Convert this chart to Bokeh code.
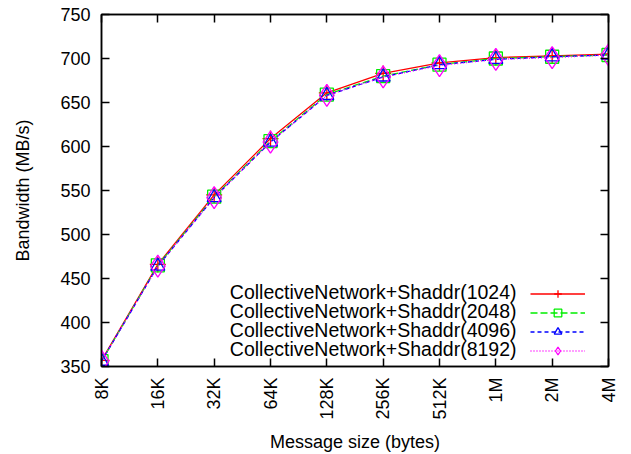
import math
from bokeh.plotting import figure
from bokeh.models import Range1d, FixedTicker, LinearAxis, Legend, LegendItem, Label
from bokeh.embed import file_html
from bokeh.resources import INLINE

sizes = ["8K", "16K", "32K", "64K", "128K", "256K", "512K", "1M", "2M", "4M"]
bw_1024 = [357, 466, 545, 609, 661, 683, 695, 701, 703, 705]
bw_2048 = [356, 465, 543, 606, 659, 680, 693, 700, 702, 704]
bw_4096 = [356, 464, 542, 605, 658, 679, 693, 699, 702, 704]
bw_8192 = [356, 464, 542, 605, 658, 679, 692, 699, 701, 704]
y_ticks = [350, 400, 450, 500, 550, 600, 650, 700, 750]

xs = list(range(len(sizes)))
FONT = "Liberation Sans"
FS = "18px"

p = figure(width=631, height=454, output_backend="svg", toolbar_location=None,
           x_range=Range1d(0, len(sizes) - 1), y_range=Range1d(350, 750),
           min_border_left=101, min_border_right=23, min_border_top=14, min_border_bottom=87)
p.grid.visible = False
p.outline_line_color = "black"
p.outline_line_width = 1.5
p.background_fill_color = "white"
p.border_fill_color = "white"

def style_axis(ax, labels=True):
    ax.axis_line_color = "black"
    ax.axis_line_width = 1.5
    ax.major_tick_in = 8
    ax.major_tick_out = 0
    ax.major_tick_line_width = 1.5
    ax.minor_tick_line_color = None
    ax.major_label_text_font = FONT
    ax.major_label_text_font_size = FS
    ax.major_label_text_color = "black"
    ax.axis_label_text_font = FONT
    ax.axis_label_text_font_size = FS
    ax.axis_label_text_font_style = "normal"
    ax.axis_label_text_color = "black"
    if not labels:
        ax.major_label_standoff = 0

xt = FixedTicker(ticks=xs)
yt = FixedTicker(ticks=y_ticks)

p.xaxis.ticker = xt
p.xaxis.major_label_overrides = {i: s for i, s in enumerate(sizes)}
p.xaxis.major_label_orientation = math.pi / 2
p.xaxis.axis_label = "Message size (bytes)"
p.xaxis.major_label_standoff = 11
p.xaxis.axis_label_standoff = 9
style_axis(p.xaxis[0])

p.yaxis.ticker = yt
p.yaxis.axis_label = "Bandwidth (MB/s)"
p.yaxis.major_label_standoff = 11
p.yaxis.axis_label_standoff = 24
style_axis(p.yaxis[0])

top = LinearAxis(ticker=xt, major_label_overrides={i: "" for i in xs})
style_axis(top, labels=False)
p.add_layout(top, "above")
right = LinearAxis(ticker=yt, major_label_overrides={v: "" for v in y_ticks})
style_axis(right, labels=False)
p.add_layout(right, "right")

series = [
    ("CollectiveNetwork+Shaddr(1024)", bw_1024, "#ff0000", "solid", "cross", 16),
    ("CollectiveNetwork+Shaddr(2048)", bw_2048, "#00ee00", "7 3", "square", 13),
    ("CollectiveNetwork+Shaddr(4096)", bw_4096, "#0000ff", "4 3", "triangle", 14),
    ("CollectiveNetwork+Shaddr(8192)", bw_8192, "#ff00ff", "1 2", "diamond", 22),
]

# legend in gnuplot style: right-aligned text, line sample on the right
ROW = 19
n = len(series)
items = []
for i, (name, ys, color, dash, marker, size) in enumerate(series):
    r1 = p.line(xs, ys, line_color=color, line_width=1.3, line_dash=dash)
    r2 = p.scatter(xs, ys, marker=marker, size=size, line_color=color,
                   fill_color=None, line_width=1.3)
    items.append(LegendItem(label="", renderers=[r1, r2]))
    p.add_layout(Label(x=415, y=18 + ROW * (n - 1 - i), x_units="screen", y_units="screen",
                       text=name, text_align="right", text_baseline="middle",
                       text_font=FONT, text_font_size="19.5px", text_color="black"))

legend = Legend(items=items, location=(429, 6))
legend.label_text_font_size = "10px"
legend.glyph_width = 55
legend.glyph_height = ROW
legend.label_height = ROW
legend.label_width = 0
legend.label_standoff = 0
legend.spacing = 0
legend.padding = 5
legend.margin = 0
legend.border_line_color = None
legend.background_fill_alpha = 0
p.add_layout(legend)

open("out.html", "w").write(file_html(p, INLINE))
